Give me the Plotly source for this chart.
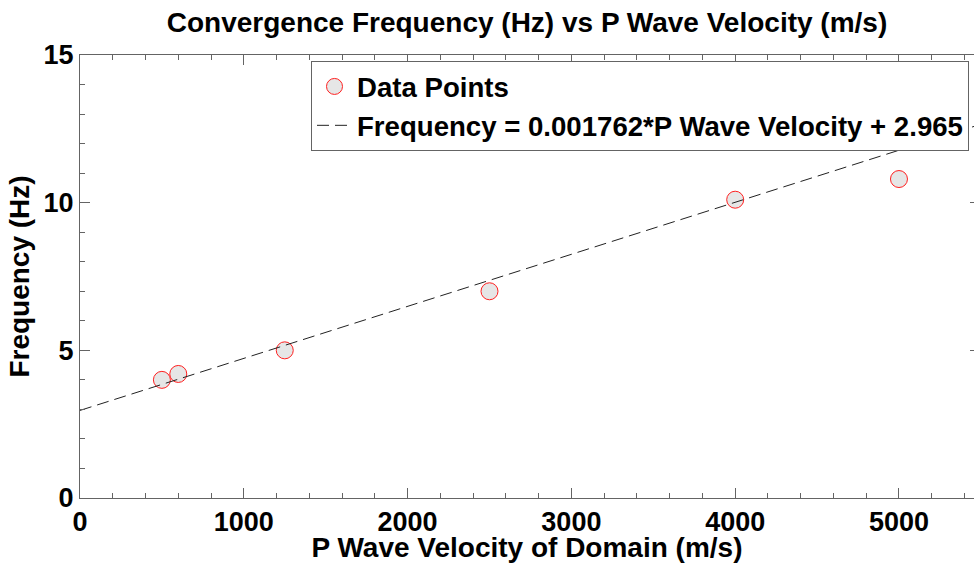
import numpy as np
import plotly.graph_objects as go

# Measured convergence frequency for each domain P-wave velocity
velocity = [500, 600, 1250, 2500, 4000, 5000]
frequency = [4.0, 4.2, 5.0, 7.0, 10.1, 10.8]

# Linear fit coefficients
fit_slope = 0.001762
fit_intercept = 2.965

# Axis extents and tick labels
x_max = 5458
y_max = 15
x_ticks = [0, 1000, 2000, 3000, 4000, 5000]
y_ticks = [0, 5, 10, 15]
right_ticks = [5, 10]

FONT = "Liberation Sans, Arial, Helvetica, sans-serif"
AXIS_GRAY = "#646464"

fit_x = np.array([0.0, float(x_max)])
fit_y = fit_slope * fit_x + fit_intercept

fig = go.Figure()

fig.add_trace(go.Scatter(
    x=velocity, y=frequency, mode="markers", name="Data Points",
    marker=dict(size=17, color="#e6e6e6", line=dict(color="#ff2020", width=1)),
))

fig.add_trace(go.Scatter(
    x=fit_x, y=fit_y, mode="lines",
    name=f"Frequency = {fit_slope}*P Wave Velocity + {fit_intercept}",
    line=dict(color="#222222", width=1, dash="12px,6px"),
))

# Ticks only on the right-hand edge
fig.add_trace(go.Scatter(x=[None], y=[None], yaxis="y2", showlegend=False,
                         hoverinfo="skip"))

fig.update_layout(
    width=974, height=563,
    margin=dict(l=80, r=0, t=55, b=65, autoexpand=False),
    paper_bgcolor="white", plot_bgcolor="white",
    font=dict(family=FONT, color="black", size=27, weight="bold"),
    title=dict(
        text="Convergence Frequency (Hz) vs P Wave Velocity (m/s)",
        x=0.5, xref="paper", xanchor="center",
        y=1 - 22 / 563, yref="container", yanchor="middle",
        font=dict(family=FONT, size=28, weight="bold", color="black"),
    ),
    xaxis=dict(
        range=[0, x_max], tickmode="array", tickvals=x_ticks,
        ticktext=[str(v) for v in x_ticks],
        ticks="inside", ticklen=10, tickwidth=1, tickcolor=AXIS_GRAY,
        showline=True, linecolor=AXIS_GRAY, linewidth=1, mirror="ticks",
        showgrid=False, zeroline=False, automargin=False,
        tickfont=dict(family=FONT, size=27, weight="bold", color="black"),
        minor=dict(tickmode="linear", tick0=0, dtick=200, ticks="inside",
                   ticklen=5, tickwidth=1, tickcolor=AXIS_GRAY, showgrid=False),
        title=dict(text="P Wave Velocity of Domain (m/s)", standoff=10,
                   font=dict(family=FONT, size=28, weight="bold", color="black")),
    ),
    yaxis=dict(
        range=[0, y_max], tickmode="array", tickvals=y_ticks,
        ticktext=[str(v) for v in y_ticks],
        ticks="inside", ticklen=10, tickwidth=1, tickcolor=AXIS_GRAY,
        showline=True, linecolor=AXIS_GRAY, linewidth=1, mirror=False,
        showgrid=False, zeroline=False, automargin=False,
        tickfont=dict(family=FONT, size=27, weight="bold", color="black"),
        minor=dict(tickmode="linear", tick0=0, dtick=1, ticks="inside",
                   ticklen=5, tickwidth=1, tickcolor=AXIS_GRAY, showgrid=False),
        title=dict(text="Frequency (Hz)", standoff=5,
                   font=dict(family=FONT, size=28, weight="bold", color="black")),
    ),
    yaxis2=dict(
        overlaying="y", side="right", range=[0, y_max],
        tickmode="array", tickvals=right_ticks, showticklabels=False,
        ticks="inside", ticklen=4, tickwidth=1, tickcolor=AXIS_GRAY,
        showline=False, showgrid=False, zeroline=False, automargin=False,
    ),
    legend=dict(
        x=(311 - 80) / 894, y=1 - 6 / 443, xanchor="left", yanchor="top",
        bgcolor="white", bordercolor=AXIS_GRAY, borderwidth=1,
        font=dict(family=FONT, size=27.6, weight="bold", color="black"),
        tracegroupgap=0, itemwidth=35,
    ),
    showlegend=True,
)

fig.write_html("out.html")
